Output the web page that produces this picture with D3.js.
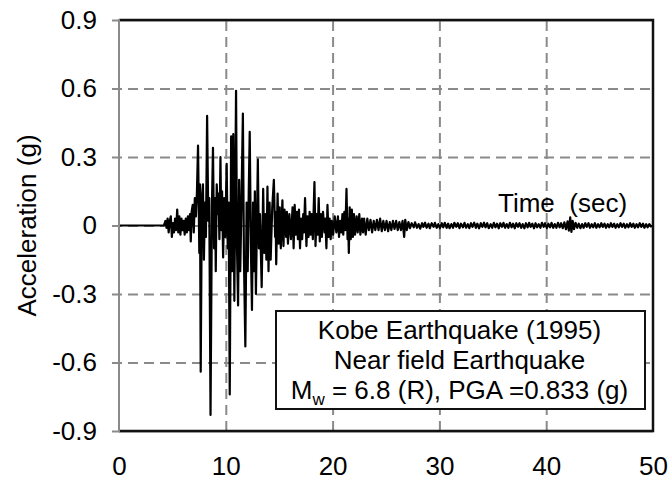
<!DOCTYPE html>
<html>
<head>
<meta charset="utf-8">
<script src="https://cdn.jsdelivr.net/npm/d3@7"></script>
<style>
  html, body { margin: 0; padding: 0; background: #fff; }
  #chart { width: 670px; height: 478px; }
  text { font-family: "Liberation Sans", Arial, sans-serif; fill: #000; }
</style>
</head>
<body>
<div id="chart"></div>
<script>
// ground motion record, [time (s), acceleration (g)]
const preEvent = [
  [0, 0], [4.2, 0], [4.35, 0.02], [4.45, -0.01], [4.55, 0.03], [4.65, -0.03], [4.75, 0.02],
  [4.85, 0.04], [4.95, -0.05], [5.05, 0.01], [5.15, -0.03], [5.25, 0.03], [5.35, -0.02],
  [5.45, 0.07], [5.55, -0.03], [5.65, 0.04], [5.75, -0.04], [5.85, 0.03], [5.95, -0.02],
  [6.05, 0.02], [6.15, -0.04], [6.25, 0.03], [6.35, -0.03], [6.45, 0.04], [6.55, -0.02],
  [6.65, 0.05], [6.72, -0.07], [6.8, 0.06], [6.9, 0.09], [7.0, -0.03]
];
const strongMotion = [
  [7.1, 0.12], [7.2, 0.04], [7.3, 0.15], [7.4, 0.35], [7.52, -0.12], [7.58, 0.18], [7.65, -0.64],
  [7.76, 0.12], [7.86, 0.18], [7.95, -0.15], [8.05, 0.1], [8.14, -0.05], [8.25, 0.48], [8.36, 0.02],
  [8.45, 0.12], [8.57, -0.83], [8.7, 0.08], [8.8, 0.34], [8.9, -0.1], [9.0, 0.12], [9.06, -0.2],
  [9.15, 0.18], [9.25, 0.05], [9.32, 0.14], [9.4, -0.06], [9.5, 0.3], [9.58, -0.02], [9.65, 0.15],
  [9.75, -0.14], [9.85, 0.12], [9.95, -0.05], [10.08, 0.27], [10.18, -0.1], [10.27, 0.1],
  [10.37, -0.74], [10.5, 0.39], [10.6, -0.2], [10.7, 0.4], [10.8, -0.33], [10.96, 0.59],
  [11.05, -0.1], [11.15, -0.35], [11.25, 0.2], [11.35, -0.2], [11.45, 0.05], [11.6, 0.49],
  [11.7, -0.15], [11.83, -0.53], [11.95, 0.1], [12.05, -0.2], [12.15, 0.15], [12.24, 0.41],
  [12.35, -0.1], [12.45, -0.37], [12.55, 0.1], [12.65, -0.2], [12.72, 0.15], [12.82, -0.3],
  [13.0, 0.29], [13.1, -0.1], [13.2, 0.05], [13.36, -0.27], [13.5, 0.16], [13.6, -0.12],
  [13.7, 0.05], [13.8, -0.15], [13.9, 0.17], [14.0, -0.2], [14.1, 0.1], [14.2, -0.15],
  [14.35, 0.08], [14.5, 0.2], [14.62, -0.05], [14.66, 0.06], [14.72, -0.17], [14.85, 0.14],
  [14.95, -0.08]
];
const coda = [
  [15.05, 0.08], [15.15, -0.1], [15.3, 0.11], [15.4, -0.09], [15.5, 0.07], [15.65, -0.05],
  [15.72, 0.06], [15.82, -0.08], [15.95, 0.05], [16.1, -0.06], [16.25, 0.08], [16.35, -0.1],
  [16.45, 0.09], [16.55, -0.04], [16.65, 0.06], [16.75, -0.06], [16.85, 0.07], [16.95, -0.1],
  [17.05, 0.03], [17.15, -0.06], [17.25, 0.05], [17.32, -0.03], [17.42, 0.12], [17.55, -0.09],
  [17.65, 0.04], [17.75, -0.05], [17.85, 0.06], [17.95, -0.04], [18.05, 0.05], [18.15, -0.06],
  [18.3, 0.19], [18.4, -0.09], [18.5, 0.05], [18.6, -0.04], [18.7, 0.12], [18.8, -0.07],
  [18.9, 0.05], [19.0, -0.05], [19.1, 0.06], [19.25, -0.03], [19.32, 0.03], [19.42, -0.1],
  [19.52, 0.09], [19.62, -0.05], [19.72, 0.03], [19.82, -0.06], [19.92, 0.02], [20.05, -0.04],
  [20.2, 0.04], [20.35, -0.03], [20.5, 0.04], [20.6, -0.05], [20.72, 0.02], [20.82, -0.03],
  [20.92, 0.05], [21.0, -0.04], [21.1, 0.06], [21.2, -0.02], [21.3, 0.16], [21.4, -0.06],
  [21.45, 0.03], [21.52, -0.12], [21.6, 0.08], [21.7, -0.06], [21.8, 0.07], [21.9, -0.05],
  [22.0, 0.05], [22.1, -0.04], [22.25, 0.04], [22.35, -0.03], [22.5, 0.05], [22.6, -0.04],
  [22.75, 0.03], [22.85, -0.03], [22.95, 0.03], [23.1, -0.04], [23.25, 0.03], [23.4, -0.02],
  [23.55, 0.025], [23.7, -0.03], [23.85, 0.02], [24.0, -0.02], [24.15, 0.025], [24.3, -0.02],
  [24.45, 0.03], [24.6, -0.025], [24.75, 0.02], [24.9, -0.02], [25.05, 0.02], [25.2, -0.025],
  [25.35, 0.015], [25.5, -0.02], [25.65, 0.02], [25.8, -0.015], [25.95, 0.02], [26.1, -0.02],
  [26.25, 0.015], [26.4, -0.02], [26.55, 0.02], [26.7, -0.05], [26.8, 0.025], [26.95, -0.02],
  [27.1, 0.015]
];
const tail = [
  [27.25, -0.012], [27.4, 0.01], [27.6, -0.008], [27.72, 0.014], [27.9, -0.01], [28.05, 0.006],
  [28.2, -0.014], [28.38, 0.01], [28.5, -0.006], [28.66, 0.012], [28.8, -0.01], [28.98, 0.008],
  [29.1, -0.012], [29.28, 0.01], [29.45, -0.006], [29.58, 0.012], [29.75, -0.01], [29.9, 0.006],
  [30.05, -0.012], [30.22, 0.01], [30.36, -0.008], [30.5, 0.012], [30.68, -0.01], [30.82, 0.008],
  [30.95, -0.012], [31.12, 0.006], [31.28, -0.01], [31.4, 0.012], [31.58, -0.006], [31.72, 0.01],
  [31.88, -0.012], [32.02, 0.008], [32.2, -0.008], [32.35, 0.012], [32.5, -0.01], [32.66, 0.006],
  [32.8, -0.012], [32.96, 0.01], [33.1, -0.006], [33.26, 0.012], [33.42, -0.01], [33.55, 0.008],
  [33.72, -0.012], [33.88, 0.01], [34.02, -0.006], [34.18, 0.012], [34.32, -0.008], [34.48, 0.01],
  [34.62, -0.012], [34.8, 0.006], [34.95, -0.01], [35.1, 0.012], [35.25, -0.008], [35.4, 0.008],
  [35.56, -0.012], [35.7, 0.01], [35.86, -0.006], [36.0, 0.012], [36.15, -0.01], [36.3, 0.006],
  [36.46, -0.01], [36.6, 0.012], [36.76, -0.008], [36.9, 0.008], [37.06, -0.012], [37.2, 0.01],
  [37.36, -0.006], [37.5, 0.01], [37.66, -0.01], [37.8, 0.006], [37.96, -0.012], [38.1, 0.01],
  [38.26, -0.008], [38.4, 0.012], [38.55, -0.006], [38.7, 0.008], [38.86, -0.012], [39.0, 0.01],
  [39.15, -0.008], [39.3, 0.006], [39.46, -0.01], [39.6, 0.012], [39.76, -0.006], [39.9, 0.01],
  [40.06, -0.012], [40.2, 0.008], [40.36, -0.008], [40.5, 0.012], [40.66, -0.01], [40.8, 0.006],
  [40.96, -0.01], [41.1, 0.012], [41.26, -0.008], [41.4, 0.01], [41.55, -0.012], [41.7, 0.014],
  [41.85, -0.016], [42.0, 0.018], [42.12, -0.022], [42.25, 0.036], [42.36, -0.028], [42.48, 0.02],
  [42.6, -0.016], [42.75, 0.012], [42.9, -0.01], [43.05, 0.008], [43.2, -0.012], [43.36, 0.006],
  [43.5, -0.01], [43.66, 0.01], [43.8, -0.006], [43.96, 0.01], [44.1, -0.01], [44.26, 0.006],
  [44.4, -0.008], [44.56, 0.01], [44.7, -0.01], [44.86, 0.006], [45.0, -0.008], [45.16, 0.01],
  [45.3, -0.006], [45.46, 0.008], [45.6, -0.01], [45.76, 0.006], [45.9, -0.008], [46.06, 0.01],
  [46.2, -0.006], [46.36, 0.008], [46.5, -0.01], [46.66, 0.006], [46.8, -0.008], [46.96, 0.01],
  [47.1, -0.006], [47.26, 0.008], [47.4, -0.01], [47.56, 0.006], [47.7, -0.008], [47.86, 0.01],
  [48.0, -0.006], [48.16, 0.008], [48.3, -0.01], [48.46, 0.006], [48.6, -0.008], [48.76, 0.01],
  [48.9, -0.006], [49.06, 0.008], [49.2, -0.01], [49.36, 0.006], [49.5, -0.008], [49.66, 0.006],
  [49.8, -0.004], [50.0, 0]
];

const xTicks = [0, 10, 20, 30, 40, 50];
const yTicks = [0.9, 0.6, 0.3, 0, -0.3, -0.6, -0.9];
const legendLines = ["Kobe Earthquake (1995)", "Near field Earthquake"];

const width = 670, height = 478;
const margin = { top: 20, right: 17, bottom: 47, left: 119 };
const innerWidth = width - margin.left - margin.right;
const innerHeight = height - margin.top - margin.bottom;

const svg = d3.select("#chart").append("svg")
  .attr("width", width)
  .attr("height", height);

const g = svg.append("g")
  .attr("transform", `translate(${margin.left},${margin.top})`);

const x = d3.scaleLinear().domain([0, 50]).range([0, innerWidth]);
const y = d3.scaleLinear().domain([-0.9, 0.9]).range([innerHeight, 0]);

// y axis: ticks poke 7px out to the left and run across as dashed grid
const yAxis = g.append("g")
  .attr("transform", "translate(-7,0)")
  .call(d3.axisLeft(y).tickValues(yTicks)
    .tickSize(-(innerWidth + 7)).tickPadding(15)
    .tickFormat(d => d === 0 ? "0" : d.toFixed(1)));
yAxis.select(".domain").remove();
yAxis.selectAll(".tick line")
  .attr("stroke", "#8a8a8a")
  .attr("stroke-width", 2)
  .attr("stroke-dasharray", d => (d === 0.9 || d === -0.9) ? null : "10,6");
yAxis.selectAll(".tick text")
  .style("font-size", "26px")
  .attr("fill", "#000");

// x axis with vertical dashed grid
const xAxis = g.append("g")
  .attr("transform", `translate(0,${innerHeight})`)
  .call(d3.axisBottom(x).tickValues(xTicks).tickSize(-innerHeight).tickPadding(26));
xAxis.select(".domain").remove();
xAxis.selectAll(".tick line")
  .attr("stroke", "#8a8a8a")
  .attr("stroke-width", 2)
  .attr("stroke-dasharray", "10,6")
  .attr("opacity", d => (d === 0 || d === 50) ? 0 : 1);
xAxis.selectAll(".tick text")
  .style("font-size", "26px")
  .attr("fill", "#000");

// the record
const record = preEvent.concat(strongMotion, coda, tail);
const line = d3.line()
  .x(d => x(d[0]))
  .y(d => y(d[1]));

g.append("path")
  .datum(record)
  .attr("fill", "none")
  .attr("stroke", "#000")
  .attr("stroke-width", 2.2)
  .attr("stroke-linejoin", "round")
  .attr("d", line);

// frame: left gray, the rest black
g.append("path")
  .attr("d", `M0,0H${innerWidth}V${innerHeight}H0`)
  .attr("fill", "none")
  .attr("stroke", "#111")
  .attr("stroke-width", 2.5);
g.append("line")
  .attr("x1", 0).attr("x2", 0)
  .attr("y1", -1).attr("y2", innerHeight + 1)
  .attr("stroke", "#8a8a8a")
  .attr("stroke-width", 2);

// axis titles
svg.append("text")
  .attr("transform", `translate(36,${margin.top + innerHeight / 2}) rotate(-90)`)
  .attr("text-anchor", "middle")
  .style("font-size", "26px")
  .text("Acceleration (g)");

g.append("text")
  .attr("x", 498 - margin.left)
  .attr("y", 212 - margin.top)
  .style("font-size", "26px")
  .style("white-space", "pre")
  .text("Time  (sec)");

// annotation box
const box = { x: 276, y: 311, w: 369, h: 98 };
svg.append("rect")
  .attr("x", box.x).attr("y", box.y)
  .attr("width", box.w).attr("height", box.h)
  .attr("fill", "#fff")
  .attr("stroke", "#111")
  .attr("stroke-width", 2);

const cx = box.x + box.w / 2 - 1;
legendLines.forEach((t, i) => {
  svg.append("text")
    .attr("x", cx)
    .attr("y", 339 + i * 30)
    .attr("text-anchor", "middle")
    .style("font-size", "26px")
    .text(t);
});
const mw = svg.append("text")
  .attr("x", cx)
  .attr("y", 399)
  .attr("text-anchor", "middle")
  .style("font-size", "26px");
mw.append("tspan").text("M");
mw.append("tspan").attr("dy", 6).style("font-size", "17px").text("w");
mw.append("tspan").attr("dy", -6).text(" = 6.8 (R), PGA =0.833 (g)");
</script>
</body>
</html>
